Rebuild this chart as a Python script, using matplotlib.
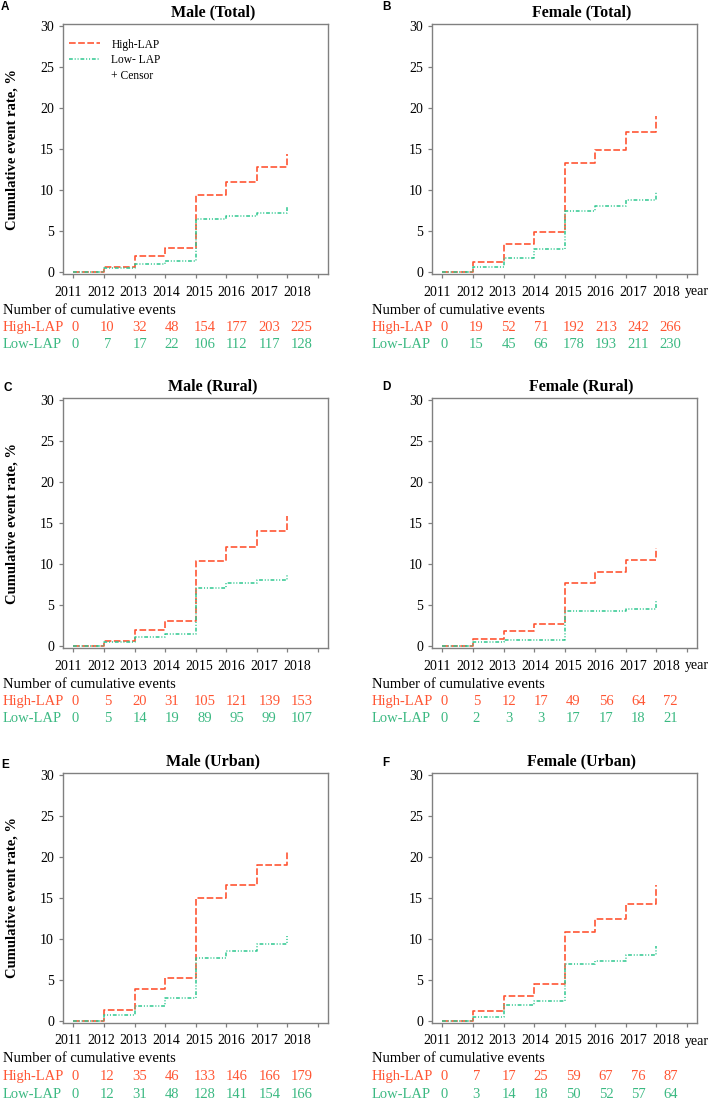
import matplotlib
matplotlib.use("Agg")
import matplotlib.pyplot as plt
from matplotlib.lines import Line2D

# ---- data ----
years = [2011, 2012, 2013, 2014, 2015, 2016, 2017, 2018]

# step level starting at each year; last entry = top of the final jump at 2018
male_total_high = [0, 0.6, 1.9, 2.9, 9.4, 11.0, 12.8, 14.4]
male_total_low = [0, 0.4, 0.95, 1.3, 6.4, 6.8, 7.2, 8.0]
female_total_high = [0, 1.2, 3.4, 4.9, 13.3, 14.9, 17.1, 19.1]
female_total_low = [0, 0.5, 1.7, 2.7, 7.35, 8.0, 8.8, 9.8]
male_rural_high = [0, 0.5, 1.95, 3.0, 10.3, 12.1, 14.05, 15.8]
male_rural_low = [0, 0.45, 1.05, 1.45, 7.0, 7.6, 8.0, 8.8]
female_rural_high = [0, 0.8, 1.8, 2.6, 7.7, 9.0, 10.45, 12.0]
female_rural_low = [0, 0.45, 0.65, 0.7, 4.25, 4.25, 4.5, 5.4]
male_urban_high = [0, 1.3, 3.9, 5.15, 15.05, 16.6, 19.0, 20.7]
male_urban_low = [0, 0.7, 1.8, 2.8, 7.6, 8.5, 9.35, 10.3]
female_urban_high = [0, 1.2, 2.95, 4.5, 10.8, 12.45, 14.3, 16.6]
female_urban_low = [0, 0.4, 1.9, 2.45, 6.95, 7.3, 8.05, 9.15]

# number of cumulative events
male_total_n_high = [0, 10, 32, 48, 154, 177, 203, 225]
male_total_n_low = [0, 7, 17, 22, 106, 112, 117, 128]
female_total_n_high = [0, 19, 52, 71, 192, 213, 242, 266]
female_total_n_low = [0, 15, 45, 66, 178, 193, 211, 230]
male_rural_n_high = [0, 5, 20, 31, 105, 121, 139, 153]
male_rural_n_low = [0, 5, 14, 19, 89, 95, 99, 107]
female_rural_n_high = [0, 5, 12, 17, 49, 56, 64, 72]
female_rural_n_low = [0, 2, 3, 3, 17, 17, 18, 21]
male_urban_n_high = [0, 12, 35, 46, 133, 146, 166, 179]
male_urban_n_low = [0, 12, 31, 48, 128, 141, 154, 166]
female_urban_n_high = [0, 7, 17, 25, 59, 67, 76, 87]
female_urban_n_low = [0, 3, 14, 18, 50, 52, 57, 64]

panels = [
    ("A", "Male (Total)", male_total_high, male_total_low, male_total_n_high, male_total_n_low),
    ("B", "Female (Total)", female_total_high, female_total_low, female_total_n_high, female_total_n_low),
    ("C", "Male (Rural)", male_rural_high, male_rural_low, male_rural_n_high, male_rural_n_low),
    ("D", "Female (Rural)", female_rural_high, female_rural_low, female_rural_n_high, female_rural_n_low),
    ("E", "Male (Urban)", male_urban_high, male_urban_low, male_urban_n_high, male_urban_n_low),
    ("F", "Female (Urban)", female_urban_high, female_urban_low, female_urban_n_high, female_urban_n_low),
]

HIGH_C = "#FF5533"
LOW_C = "#2FC890"
HIGH_TXT = "#FF5533"
LOW_TXT = "#3BB982"
SPINE_C = "#808080"
SERIF = ["Liberation Serif", "DejaVu Serif"]
SANS = ["Liberation Sans", "DejaVu Sans"]

plt.rcParams["font.family"] = SERIF

W, H = 709, 1099
fig = plt.figure(figsize=(W / 100, H / 100), dpi=100)

# axes boxes in pixels (left, top, right, bottom)
col_x = [(63, 328), (432, 697)]
row_y = [(24, 274), (398, 648), (773, 1023)]
letter_pos = [(1, 7), (382, 7), (3, 388), (382, 387), (1, 765), (382, 763)]

PX = 0.72  # px -> pt at 100 dpi

for k, (letter, title, high, low, n_high, n_low) in enumerate(panels):
    r, c = divmod(k, 2)
    x0, x1 = col_x[c]
    y0, y1 = row_y[r]
    ax = fig.add_axes([x0 / W, 1 - y1 / H, (x1 - x0) / W, (y1 - y0) / H])

    ax.step(years, high, where="post", color=HIGH_C, lw=1.2, dashes=(4, 1.5))
    ax.step(years, low, where="post", color=LOW_C, lw=1.1,
            dashes=(2.5, 1.2, 0.7, 1.2, 0.7, 1.2))

    ax.set_xlim(2010.66, 2019.33)
    ax.set_ylim(-0.3, 30.3)
    ax.set_xticks(range(2011, 2020))
    ax.set_xticklabels([])
    ax.set_yticks(range(0, 31, 5))
    ax.tick_params(axis="both", direction="out", length=3.0, width=0.9,
                   color=SPINE_C, labelsize=10, pad=3.5)
    for s in ax.spines.values():
        s.set_color(SPINE_C)
        s.set_linewidth(1.0)

    # x tick labels (slightly spread compared with the ticks, as in the figure)
    for i, yr in enumerate(range(2011, 2019)):
        ax.annotate(str(yr), xy=(2010.84 + 1.067 * i, 0), xycoords=("data", "axes fraction"),
                    xytext=(0, -18 * PX), textcoords="offset points",
                    ha="center", va="center", fontsize=10, annotation_clip=False)
    if c == 1:
        ax.annotate("year", xy=(2018.95, 0), xycoords=("data", "axes fraction"),
                    xytext=(0, -18 * PX), textcoords="offset points",
                    ha="left", va="center", fontsize=10, annotation_clip=False)

    # risk table below
    ax.annotate("Number of cumulative events", xy=(0, 0), xycoords="axes fraction",
                xytext=(-60 * PX, -36 * PX), textcoords="offset points",
                ha="left", va="center", fontsize=10.5)
    for lab, vals, col, dy in [("High-LAP", n_high, HIGH_TXT, 53.5),
                               ("Low-LAP", n_low, LOW_TXT, 71)]:
        ax.annotate(lab, xy=(0, 0), xycoords="axes fraction",
                    xytext=(-60 * PX, -dy * PX), textcoords="offset points",
                    ha="left", va="center", fontsize=10.5, color=col)
        for i, v in enumerate(vals):
            ax.annotate(str(v), xy=(2011.05 + 1.06 * i, 0), xycoords=("data", "axes fraction"),
                        xytext=(0, -dy * PX), textcoords="offset points",
                        ha="center", va="center", fontsize=10.5, color=col,
                        annotation_clip=False)

    ax.text(0.565, 1 + 12 / 250, title, transform=ax.transAxes, ha="center",
            va="center", fontsize=11.5, fontweight="bold")

    if c == 0:
        ax.set_ylabel("Cumulative event rate, %", fontsize=10.5, fontweight="bold")
        ax.yaxis.set_label_coords(-44 / 265, 0.5)

    if k == 0:
        handles = [Line2D([], [], color=HIGH_C, lw=1.2, dashes=(4, 1.5)),
                   Line2D([], [], color=LOW_C, lw=1.1, dashes=(2.5, 1.2, 0.7, 1.2, 0.7, 1.2)),
                   Line2D([], [], color="none")]
        ax.legend(handles, ["High-LAP", "Low- LAP", "+ Censor"], loc="upper left",
                  bbox_to_anchor=(0.0, 0.965), frameon=False, fontsize=8.3,
                  handlelength=2.7, handletextpad=1.0, labelspacing=0.32,
                  borderpad=0.2, borderaxespad=0.3)

    lx, ly = letter_pos[k]
    fig.text(lx / W, 1 - ly / H, letter, ha="left", va="center", fontsize=8.5,
             fontweight="bold", family=SANS)

fig.savefig("out.png", dpi=100)
